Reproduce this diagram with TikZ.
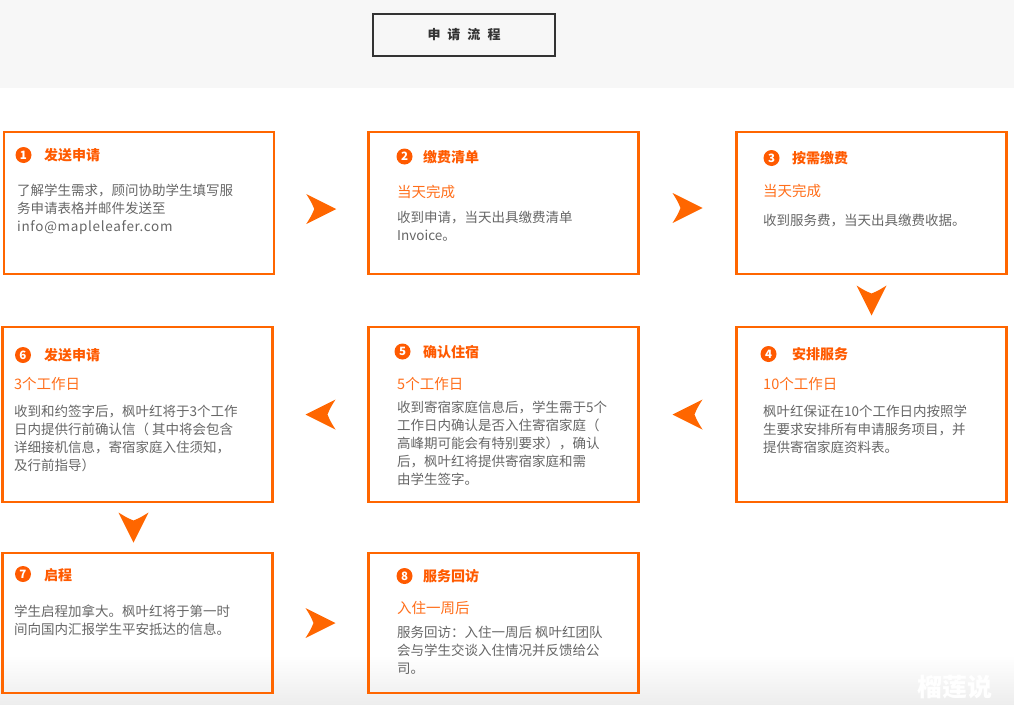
\documentclass[tikz,border=0pt]{standalone}
\usepackage{fontspec}
\setmainfont{Noto Sans CJK SC}
\usetikzlibrary{calc}
\definecolor{flowor}{HTML}{FF6600}
\definecolor{titleor}{HTML}{FF5A00}
\definecolor{subor}{HTML}{FF6E1A}
\definecolor{bodygr}{HTML}{666666}
\definecolor{bandgr}{HTML}{F7F7F7}
\definecolor{headgr}{HTML}{333333}
\begin{document}
\begin{tikzpicture}[x=1pt,y=-1pt,
    stepbox/.style={draw=flowor, line width=2.5pt, minimum width=270pt, inner sep=0pt},
    numdot/.style={circle, fill=titleor, text=white, inner sep=0pt, minimum size=16pt,
        font=\fontsize{11.5}{11.5}\selectfont\bfseries},
    steptitle/.style={anchor=base west, inner sep=0pt, text=titleor,
        font=\fontsize{14}{14}\selectfont\bfseries},
    stepsub/.style={anchor=base west, inner sep=0pt, text=subor,
        font=\fontsize{14.5}{14.5}\selectfont},
    stepbody/.style={anchor=base west, inner sep=0pt, align=left, text=bodygr,
        font=\fontsize{13.5}{18}\selectfont},
    flowarrow/.pic={\fill[flowor] (15,0) -- (-15,-15) .. controls (-10,-7) .. (-7,0)
        .. controls (-10,7) .. (-15,15) -- cycle;}
]
                \useasboundingbox (0,0) rectangle (1014,704);

                % Background
                \fill[bandgr] (0,0) rectangle (1014,88);
                \shade[top color=white, bottom color=black!7] (0,655) rectangle (1014,704);
                \node[text=white, font=\fontsize{25}{25}\selectfont\bfseries] (mark) at (955,687) {榴莲说};

                % Header
                \node[draw=headgr, line width=1.2pt, minimum width=182pt, minimum height=42pt,
                    text=headgr, font=\fontsize{13}{13}\selectfont\bfseries] (head) at (464,35)
                    {申\hspace{7pt}请\hspace{7pt}流\hspace{7pt}程};

                % Step boxes
                \node[stepbox, minimum height=142pt] (b1) at (139,203) {};
                \node[stepbox, minimum height=142pt] (b2) at (503.5,203) {};
                \node[stepbox, minimum height=142pt] (b3) at (871.5,203) {};
                \node[stepbox, minimum height=175pt] (b6) at (137.5,414.5) {};
                \node[stepbox, minimum height=175pt] (b5) at (503.5,414.5) {};
                \node[stepbox, minimum height=175pt] (b4) at (871.5,414.5) {};
                \node[stepbox, minimum height=140pt] (b7) at (137.5,623) {};
                \node[stepbox, minimum height=140pt] (b8) at (503.5,623) {};

                % Arrows between boxes
                \pic at ($(b1.east)!0.5!(b2.west)+(0,6)$) {flowarrow};
                \pic at ($(b2.east)!0.5!(b3.west)+(0,5)$) {flowarrow};
                \pic[rotate=-90] at ($(b3.south)!0.5!(b4.north)$) {flowarrow};
                \pic[rotate=180] at ($(b4.west)!0.5!(b5.east)$) {flowarrow};
                \pic[rotate=180] at ($(b5.west)!0.5!(b6.east)$) {flowarrow};
                \pic[rotate=-90] at ($(b6.south)!0.5!(b7.north)+(-4,0)$) {flowarrow};
                \pic at ($(b7.east)!0.5!(b8.west)$) {flowarrow};

                % Step 1 (body nodes sit on the baseline of their last line)
                \node[numdot] (n1) at (23.5,155) {1};
                \node[steptitle] (t1) at (44,160.3) {发送申请};
                \node[stepbody] (d1) at (17,231) {了解学生需求，顾问协助学生填写服\\务申请表格并邮件发送至\\{\addfontfeature{LetterSpace=5}info@mapleleafer.com}};

                % Step 2
                \node[numdot] (n2) at (404.5,156.5) {2};
                \node[steptitle] (t2) at (423,162) {缴费清单};
                \node[stepsub] (s2) at (397,197) {当天完成};
                \node[stepbody] (d2) at (397,240) {收到申请，当天出具缴费清单\\Invoice。};

                % Step 3
                \node[numdot] (n3) at (771.5,158) {3};
                \node[steptitle] (t3) at (792,163.5) {按需缴费};
                \node[stepsub] (s3) at (763,196.5) {当天完成};
                \node[stepbody] (d3) at (763,225) {收到服务费，当天出具缴费收据。};

                % Step 4
                \node[numdot] (n4) at (768.5,354) {4};
                \node[steptitle] (t4) at (792,359.5) {安排服务};
                \node[stepsub] (s4) at (763,389) {10个工作日};
                \node[stepbody] (d4) at (763,452) {枫叶红保证在10个工作日内按照学\\生要求安排所有申请服务项目，并\\提供寄宿家庭资料表。};

                % Step 5
                \node[numdot] (n5) at (402.5,351.5) {5};
                \node[steptitle] (t5) at (423,357) {确认住宿};
                \node[stepsub] (s5) at (397,389.5) {5个工作日};
                \node[stepbody] (d5) at (397,484.5) {收到寄宿家庭信息后，学生需于5个\\工作日内确认是否入住寄宿家庭（\\高峰期可能会有特别要求），确认\\后，枫叶红将提供寄宿家庭和需\\由学生签字。};

                % Step 6
                \node[numdot] (n6) at (23,355) {6};
                \node[steptitle] (t6) at (44,360.5) {发送申请};
                \node[stepsub] (s6) at (14,389) {3个工作日};
                \node[stepbody] (d6) at (14,470) {收到和约签字后，枫叶红将于3个工作\\日内提供行前确认信（ 其中将会包含\\详细接机信息，寄宿家庭入住须知，\\及行前指导）};

                % Step 7
                \node[numdot] (n7) at (23,574) {7};
                \node[steptitle] (t7) at (44,580) {启程};
                \node[stepbody] (d7) at (14,634) {学生启程加拿大。枫叶红将于第一时\\间向国内汇报学生平安抵达的信息。};

                % Step 8
                \node[numdot] (n8) at (404.5,576) {8};
                \node[steptitle] (t8) at (423,581.5) {服务回访};
                \node[stepsub] (s8) at (397,613.5) {入住一周后};
                \node[stepbody] (d8) at (397,673.5) {服务回访：入住一周后 枫叶红团队\\会与学生交谈入住情况并反馈给公\\司。};
\end{tikzpicture}
\end{document}
